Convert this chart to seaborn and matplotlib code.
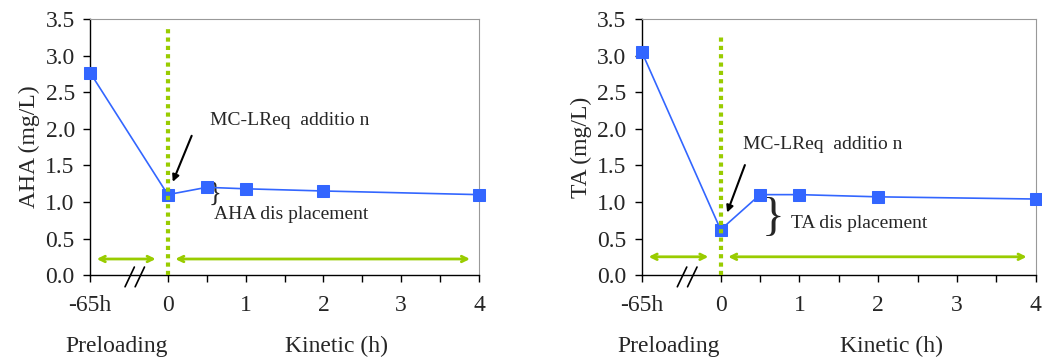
import numpy as np
import pandas as pd
import matplotlib
matplotlib.use("Agg")
import matplotlib.pyplot as plt
import seaborn as sns

sns.set_style("ticks")
plt.rcParams['font.family'] = ['Liberation Serif', 'DejaVu Serif']

# time positions: -1 stands for the -65h preloading point
time_pos = [-1, 0, 0.5, 1, 2, 4]
aha_vals = [2.77, 1.10, 1.20, 1.18, 1.15, 1.10]
ta_vals = [3.05, 0.62, 1.10, 1.10, 1.07, 1.04]
tick_pos = [-1, 0, 1, 2, 3, 4]
tick_labels = ['-65h', '0', '1', '2', '3', '4']

df_aha = pd.DataFrame({'t': time_pos, 'v': aha_vals})
df_ta = pd.DataFrame({'t': time_pos, 'v': ta_vals})

blue = '#3366ff'
green = '#99cc00'

fig = plt.figure(figsize=(10.42, 3.61), dpi=100)
ax1 = fig.add_axes([0.0864, 0.238, 0.3733, 0.709])
ax2 = fig.add_axes([0.616, 0.238, 0.378, 0.709])


def draw_panel(ax, df, ylabel, arrow_y, txt_xy, arr_start, arr_end, brace, disp_xy, disp_txt, vline_top):
    sns.lineplot(data=df, x='t', y='v', ax=ax, color=blue, lw=1.2, marker='s',
                 markersize=8, markeredgecolor=blue, clip_on=False, zorder=4)
    ax.set_xlim(-1, 4)
    ax.set_ylim(0, 3.5)
    ax.set_yticks(np.arange(0, 3.51, 0.5))
    ax.set_yticklabels([f'{v:.1f}' for v in np.arange(0, 3.51, 0.5)])
    ax.set_xticks(tick_pos)
    ax.set_xticklabels(tick_labels)
    ax.set_xticks([0.5, 1.5, 2.5, 3.5], minor=True)
    ax.tick_params(axis='both', labelsize=17, direction='out', length=5, width=1, color='black')
    ax.tick_params(axis='y', pad=6)
    ax.tick_params(axis='x', which='minor', length=5, width=1, color='black')
    ax.tick_params(axis='x', pad=9)
    ax.set_xlabel('')
    ax.set_ylabel(ylabel, fontsize=17, labelpad=4)
    for s in ['top', 'right']:
        ax.spines[s].set_visible(True)
        ax.spines[s].set_color('#999999')
    for s in ['left', 'bottom']:
        ax.spines[s].set_color('black')
        ax.spines[s].set_linewidth(1)
    # start of MC-LR addition
    ax.plot([0, 0], [0, vline_top], color=green, lw=3, ls=(0, (1, 1)), zorder=5)
    # phase arrows
    arr = dict(arrowstyle='<->', color=green, lw=2, mutation_scale=10)
    ax.annotate('', xy=(-0.95, arrow_y), xytext=(-0.12, arrow_y), arrowprops=arr)
    ax.annotate('', xy=(0.06, arrow_y), xytext=(3.92, arrow_y), arrowprops=arr)
    # addition annotation
    ax.annotate('', xy=arr_end, xytext=arr_start,
                arrowprops=dict(arrowstyle='-|>', color='black', lw=1.5, mutation_scale=10))
    ax.text(txt_xy[0], txt_xy[1], 'MC-LReq  additio n', fontsize=14, ha='left', va='center')
    bx, by0, by1 = brace
    ax.text(bx, (by0 + by1) / 2, '}', fontsize=12 + 40 * (by1 - by0), ha='left', va='center',
            fontweight='light')
    ax.text(disp_xy[0], disp_xy[1], disp_txt, fontsize=14, ha='left', va='center')
    # axis break
    for dx in [0, 0.13]:
        ax.plot([-0.55 + dx, -0.43 + dx], [-0.16, 0.11], color='black', lw=1.2, clip_on=False)
    ax.text(-0.66, -0.97, 'Preloading', fontsize=17, ha='center', va='center')
    ax.text(2.17, -0.97, 'Kinetic (h)', fontsize=17, ha='center', va='center')


draw_panel(ax1, df_aha, 'AHA (mg/L)', 0.22, (0.54, 2.12), (0.32, 1.94), (0.05, 1.24),
           (0.52, 1.02, 1.2), (0.59, 0.83), 'AHA dis placement', 3.4)
draw_panel(ax2, df_ta, 'TA (mg/L)', 0.25, (0.28, 1.79), (0.32, 1.54), (0.07, 0.82),
           (0.52, 0.5, 1.05), (0.89, 0.7), 'TA dis placement', 3.3)

fig.savefig('out.png', dpi=100)
